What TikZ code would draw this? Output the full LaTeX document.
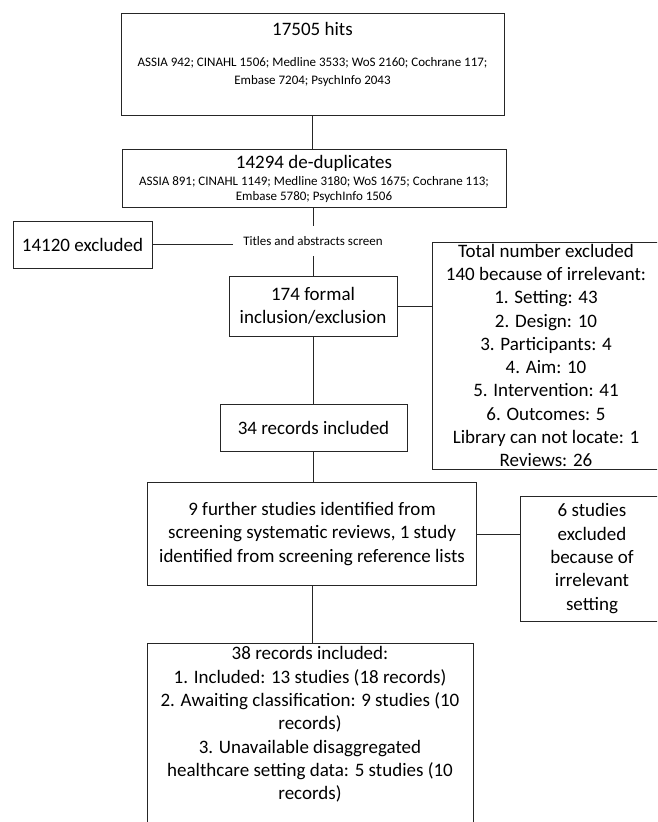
\documentclass[tikz,border=0pt]{standalone}
\usepackage{fontspec}
\setmainfont{Carlito}
\tikzset{
	box/.style={draw=black!85, line width=0.8pt, rectangle, inner sep=0pt, align=center, font=\fontsize{19}{23.3}\selectfont},
	txt/.style={inner sep=0pt, align=center, font=\fontsize{19}{23.3}\selectfont},
	list/.style={inner sep=0pt, align=center, font=\fontsize{13}{#1}\selectfont},
	link/.style={draw=black!85, line width=0.8pt}
}

\begin{document}
\begin{tikzpicture}[x=1pt, y=-1pt]
		\useasboundingbox (0,0) rectangle (657,822);
		\clip (0,0) rectangle (657,822);
		%
		\node (hits)[box, minimum width=383pt, minimum height=102pt] at (312.5,64){};
		\node (hitstitle)[txt] at (312.5,29){17505 hits};
		\node (hitslist)[list=17.7pt] at (312.5,72){ASSIA 942; CINAHL 1506; Medline 3533; WoS 2160; Cochrane 117;\\Embase 7204; PsychInfo 2043};
		%
		\node (dedup)[box, minimum width=384pt, minimum height=58pt] at (314,178){};
		\node (deduptitle)[txt] at (314,163){14294 de-duplicates};
		\node (deduplist)[list=15pt] at (314,190){ASSIA 891; CINAHL 1149; Medline 3180; WoS 1675; Cochrane 113;\\Embase 5780; PsychInfo 1506};
		%
		\node (excl)[box, minimum width=139pt, minimum height=47pt] at (82.5,244.5){14120 excluded};
		\node (formal)[box, minimum width=168pt, minimum height=60pt] at (313,306){174 formal\\inclusion/exclusion};
		\node (totalexcl)[box, minimum width=228pt, minimum height=227pt] at (546,355.5){Total number excluded\\140 because of irrelevant:\\1. Setting: 43\\2. Design: 10\\3. Participants: 4\\4. Aim: 10\\5. Intervention: 41\\6. Outcomes: 5\\Library can not locate: 1\\Reviews: 26};
		\node (incl)[box, minimum width=187pt, minimum height=47pt] at (313.5,427.5){34 records included};
		\node (further)[box, minimum width=329.5pt, minimum height=102.5pt] at (312,534){9 further studies identified from\\screening systematic reviews, 1 study\\identified from screening reference lists};
		\node (studyexcl)[box, minimum width=144pt, minimum height=125pt] at (592,558.5){6 studies\\excluded\\because of\\irrelevant\\setting};
		\node (final)[box, minimum width=326pt, minimum height=206pt] at (310,746){};
		\node (finaltext)[txt] at (310,724.5){38 records included:\\1. Included: 13 studies (18 records)\\2. Awaiting classification: 9 studies (10\\records)\\3. Unavailable disaggregated\\healthcare setting data: 5 studies (10\\records)};
		%
		\draw[link] (hits.south) -- (hits.south |- dedup.north);
		\draw[link] (formal.north |- dedup.south) -- (formal.north);
		\node (screen)[fill=white, inner xsep=10pt, minimum height=30pt, font=\fontsize{13}{15}\selectfont] at (313,241){Titles and abstracts screen};
		\draw[link] (excl.east) -- (excl.east -| screen.west);
		\draw[link] (formal.east) -- (formal.east -| totalexcl.west);
		\draw[link] (formal.south) -- (formal.south |- incl.north);
		\draw[link] (incl.south) -- (incl.south |- further.north);
		\draw[link] (further.east) -- (further.east -| studyexcl.west);
		\draw[link] (further.south) -- (further.south |- final.north);
	\end{tikzpicture}
\end{document}
